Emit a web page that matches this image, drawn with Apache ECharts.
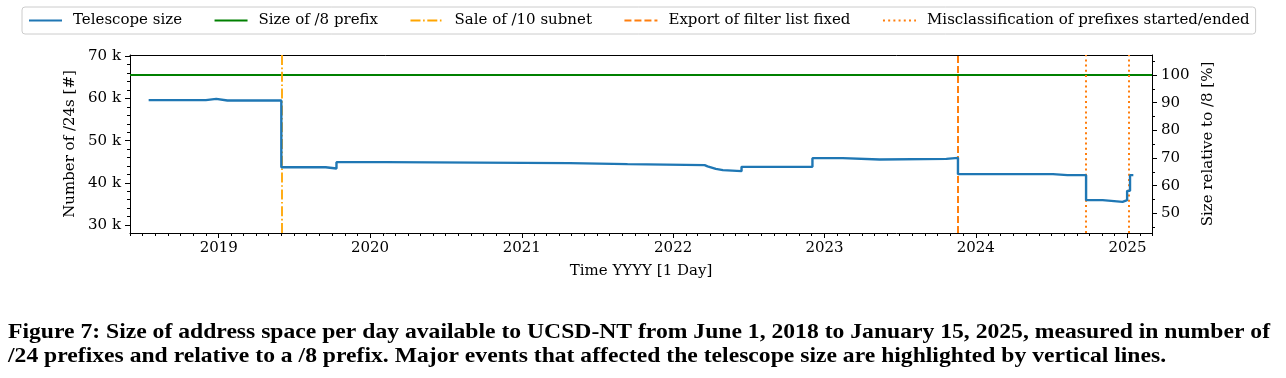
<!DOCTYPE html>
<html>
<head>
<meta charset="utf-8">
<script src="https://cdn.jsdelivr.net/npm/echarts@6/dist/echarts.min.js"></script>
<style>
html,body{margin:0;padding:0;background:#fff;}
#chart{width:1286px;height:378px;}
</style>
</head>
<body>
<div id="chart"></div>
<script>
// ---- data ----
const telescopeDates = ['2018-07-16','2018-12-01','2018-12-26','2019-01-22','2019-01-26','2019-02-04','2019-02-08',
  '2019-06-01','2019-09-16','2019-10-12','2020-02-09','2021-04-26','2021-09-13','2022-03-18','2022-03-25',
  '2022-04-04','2022-04-14','2022-05-01','2022-06-15','2022-12-03','2023-02-14','2023-05-14','2023-10-22',
  '2023-11-19','2024-02-10','2024-02-13','2024-07-05','2024-08-09','2024-08-12','2024-09-23','2024-11-02',
  '2024-12-20','2024-12-31','2025-01-07','2025-01-15'];
const telescopeValues = [59600,59900,59500,59200,59500,59200,59500,
  43700,43400,44900,44660,44420,44190,43900,
  43600,43300,43000,42760,43780,45850,45540,45680,45920,
  42050,41800,42050,41810,41550,41810,35890,35480,
  35890,38090,41810,41810];
const prefix8Size = 65536;
const saleDate = '2019-06-01';
const exportFixDate = '2023-11-19';
const misclassDates = ['2024-09-23','2025-01-04'];
const yearTicks = [2019,2020,2021,2022,2023,2024,2025];
const leftMajorTicks = [30000,40000,50000,60000,70000];
const leftMinorTicks = [30000,32000,34000,36000,38000,40000,42000,44000,46000,48000,50000,52000,54000,56000,58000,60000,62000,64000,66000,68000,70000];
const rightMajorTicks = [50,60,70,80,90,100];
const rightMinorTicks = [45,55,65,75,85,95,105];
const xRange = ['2018-06-01','2025-03-01'];
const yRange = [28100,70300];
const captionLines = [
  'Figure 7: Size of address space per day available to UCSD-NT from June 1, 2018 to January 15, 2025, measured in number of',
  '/24 prefixes and relative to a /8 prefix. Major events that affected the telescope size are highlighted by vertical lines.'
];

// ---- build ----
const t = d => Date.parse(d);
const yearTs = yearTicks.map(y => Date.UTC(y,0,1));
const monthTs = [];
for (let y = 2018; y <= 2025; y++) for (let m = 0; m < 12; m++) {
  const v = Date.UTC(y,m,1);
  if (v >= t(xRange[0]) && v <= t(xRange[1])) monthTs.push(v);
}
const lineData = telescopeDates.map((d,i) => [t(d), telescopeValues[i]]);
const FONT = 'DejaVu Serif';
const FS = 15;
const BLACK = '#000';

const chart = echarts.init(document.getElementById('chart'), null, {renderer:'canvas'});

const baseX = {type:'value', min:t(xRange[0]), max:t(xRange[1]), position:'bottom', splitLine:{show:false},
  axisLine:{show:true, lineStyle:{color:BLACK, width:1}}};
const baseY = {type:'value', min:yRange[0], max:yRange[1], splitLine:{show:false},
  axisLine:{show:true, lineStyle:{color:BLACK, width:1}}};
const pMin = yRange[0]/prefix8Size*100, pMax = yRange[1]/prefix8Size*100;

const markBase = {symbol:['none','none'], silent:true, label:{show:false}, animation:false};

// caption scale
const cv = document.createElement('canvas').getContext('2d');
const capFont = 'bold 21px "Liberation Serif"';
cv.font = capFont;
const capScale = 1262 / cv.measureText(captionLines[0]).width;

chart.setOption({
  animation:false,
  textStyle:{fontFamily:FONT},
  grid:{left:130, right:134, top:55, bottom:145, show:false, containLabel:false},
  legend:{
    left:22, top:7, itemWidth:33, itemHeight:14, itemGap:31.5,
    padding:[6,6,6,6], borderColor:'#cccccc', borderWidth:1, borderRadius:3,
    itemStyle:{opacity:0, borderWidth:0},
    textStyle:{fontFamily:FONT, fontSize:FS, color:BLACK, padding:[0,0,0,6]},
    data:['Telescope size','Size of /8 prefix','Sale of /10 subnet','Export of filter list fixed','Misclassification of prefixes started/ended']
  },
  xAxis:[
    Object.assign({}, baseX, {
      name:'Time YYYY [1 Day]', nameLocation:'middle', nameGap:31,
      nameTextStyle:{fontFamily:FONT, fontSize:FS, color:BLACK},
      axisTick:{show:true, length:5, lineStyle:{color:BLACK}, customValues:yearTs},
      axisLabel:{show:true, margin:8, fontFamily:FONT, fontSize:FS, color:BLACK, customValues:yearTs,
        formatter:v => String(new Date(v).getUTCFullYear())}
    }),
    Object.assign({}, baseX, {
      axisLine:{show:false},
      axisTick:{show:true, length:3, lineStyle:{color:BLACK}, customValues:monthTs},
      axisLabel:{show:false}
    }),
    Object.assign({}, baseX, {
      position:'top',
      axisTick:{show:false},
      axisLabel:{show:false}
    })
  ],
  yAxis:[
    Object.assign({}, baseY, {
      position:'left', name:'Number of /24s [#]', nameLocation:'middle', nameGap:50, nameRotate:90,
      nameTextStyle:{fontFamily:FONT, fontSize:FS, color:BLACK},
      axisTick:{show:true, length:5, lineStyle:{color:BLACK}, customValues:leftMajorTicks},
      axisLabel:{show:true, margin:9, fontFamily:FONT, fontSize:FS, color:BLACK, customValues:leftMajorTicks,
        formatter:v => (v/1000) + ' k'}
    }),
    Object.assign({}, baseY, {
      position:'left', axisLine:{show:false},
      axisTick:{show:true, length:3, lineStyle:{color:BLACK}, customValues:leftMinorTicks},
      axisLabel:{show:false}
    }),
    {type:'value', position:'right', min:pMin, max:pMax, splitLine:{show:false},
      axisLine:{show:true, lineStyle:{color:BLACK, width:1}},
      name:'Size relative to /8 [%]', nameLocation:'middle', nameGap:45, nameRotate:90,
      nameTextStyle:{fontFamily:FONT, fontSize:FS, color:BLACK},
      axisTick:{show:true, length:5, lineStyle:{color:BLACK}, customValues:rightMajorTicks},
      axisLabel:{show:true, margin:9, fontFamily:FONT, fontSize:FS, color:BLACK, customValues:rightMajorTicks}
    },
    {type:'value', position:'right', min:pMin, max:pMax, splitLine:{show:false},
      axisLine:{show:false},
      axisTick:{show:true, length:3, lineStyle:{color:BLACK}, customValues:rightMinorTicks},
      axisLabel:{show:false}
    }
  ],
  series:[
    {name:'Telescope size', type:'line', step:'end', symbol:'none', showSymbol:false,
      xAxisIndex:0, yAxisIndex:0, data:lineData, z:5,
      lineStyle:{color:'#1f77b4', width:2.4}, itemStyle:{color:'#1f77b4'}},
    {name:'Size of /8 prefix', type:'line', symbol:'none', xAxisIndex:0, yAxisIndex:0, data:[],
      lineStyle:{color:'#008000', width:2}, itemStyle:{color:'#008000'},
      markLine:Object.assign({}, markBase, {lineStyle:{color:'#008000', width:2, type:'solid'}, data:[{yAxis:prefix8Size}]})},
    {name:'Sale of /10 subnet', type:'line', symbol:'none', xAxisIndex:0, yAxisIndex:0, data:[],
      lineStyle:{color:'#ffa500', width:1.8, type:[10,2.6,1.6,2.6]}, itemStyle:{color:'#ffa500'},
      markLine:Object.assign({}, markBase, {lineStyle:{color:'#ffa500', width:1.8, type:[10,2.6,1.6,2.6]}, data:[{xAxis:t(saleDate)}]})},
    {name:'Export of filter list fixed', type:'line', symbol:'none', xAxisIndex:0, yAxisIndex:0, data:[],
      lineStyle:{color:'#ff7f0e', width:2, type:[7,3]}, itemStyle:{color:'#ff7f0e'},
      markLine:Object.assign({}, markBase, {lineStyle:{color:'#ff7f0e', width:2, type:[7,3]}, data:[{xAxis:t(exportFixDate)}]})},
    {name:'Misclassification of prefixes started/ended', type:'line', symbol:'none', xAxisIndex:0, yAxisIndex:0, data:[],
      lineStyle:{color:'#ff7f0e', width:2, type:[2,3.2]}, itemStyle:{color:'#ff7f0e'},
      markLine:Object.assign({}, markBase, {lineStyle:{color:'#ff7f0e', width:2, type:[2,3.2]}, data:misclassDates.map(d => ({xAxis:t(d)}))})}
  ],
  graphic:captionLines.map((line,i) => ({
    type:'text', x:8, y:333 + i*24, scaleX:capScale, silent:true,
    style:{text:line, font:capFont, fill:'#000', verticalAlign:'middle', textAlign:'left'}
  }))
});
</script>
</body>
</html>
